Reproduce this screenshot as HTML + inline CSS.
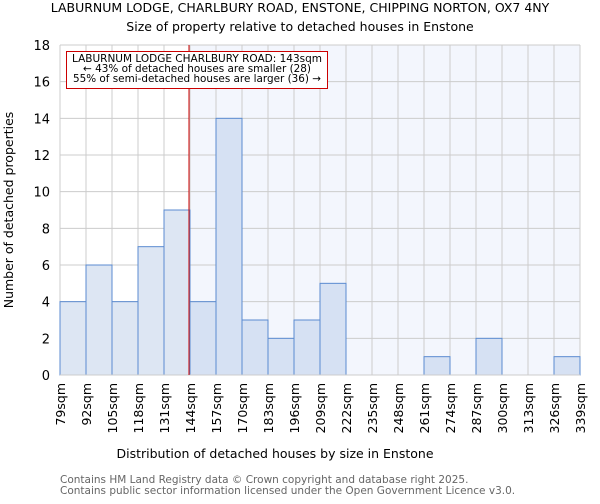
<!DOCTYPE html>
<html><head><meta charset="utf-8"><style>
body{margin:0;background:#fff;font-family:"DejaVu Sans","Liberation Sans",sans-serif;}
</style></head><body>
<svg id="c" width="600" height="500" xmlns="http://www.w3.org/2000/svg" font-family="DejaVu Sans, Liberation Sans, sans-serif">
<text x="300" y="12" text-anchor="middle" font-size="12.5">LABURNUM LODGE, CHARLBURY ROAD, ENSTONE, CHIPPING NORTON, OX7 4NY</text>
<text x="300" y="31" text-anchor="middle" font-size="12.5">Size of property relative to detached houses in Enstone</text>
<g id="plot"></g>
<text x="275" y="458" text-anchor="middle" font-size="12.5">Distribution of detached houses by size in Enstone</text>
<text transform="translate(13,210) rotate(-90)" text-anchor="middle" font-size="12.5">Number of detached properties</text>
<text x="60" y="483" font-size="10.5" fill="#666">Contains HM Land Registry data © Crown copyright and database right 2025.</text>
<text x="60" y="494" font-size="10.5" fill="#666">Contains public sector information licensed under the Open Government Licence v3.0.</text>
</svg>
<script>
const binEdges=[79,92,105,118,131,144,157,170,183,196,209,222,235,248,261,274,287,300,313,326,339];
const counts=[4,6,4,7,9,4,14,3,2,3,5,0,0,0,1,0,2,0,0,1];
const yTicks=[0,2,4,6,8,10,12,14,16,18];
const subjectSize=143;
const L=60,R=580,T=45,B=375,yMax=18;
const xs=v=>L+(v-binEdges[0])/(binEdges[binEdges.length-1]-binEdges[0])*(R-L);
const ys=v=>B-v/yMax*(B-T);
const NS='http://www.w3.org/2000/svg';
const g=document.getElementById('plot');
function mk(t,a){const e=document.createElementNS(NS,t);for(const k in a)e.setAttribute(k,a[k]);g.appendChild(e);return e;}
const sx=xs(subjectSize)+1;
let e=mk('rect',{x:sx,y:T,width:R-sx,height:B-T,fill:'#f3f6fd'});


yTicks.forEach(t=>{
 let l=mk('line',{x1:L,x2:R,y1:ys(t),y2:ys(t),stroke:'#cccccc'});
 
 
 let tx=mk('text',{x:L-10,y:ys(t)+5,'text-anchor':'end','font-size':'13'});
 tx.textContent=t;
 
 
});
binEdges.forEach(b=>{
 let l=mk('line',{x1:xs(b),x2:xs(b),y1:T,y2:B,stroke:'#cccccc'});
 
 
 let tx=mk('text',{transform:`translate(${xs(b)+5},${B+8}) rotate(-90)`,'text-anchor':'end','font-size':'12.5'});
 tx.textContent=b+'sqm';
 
 
});
counts.forEach((c,i)=>{
 if(c<=0)return;
 const x0=xs(binEdges[i]),x1=xs(binEdges[i+1]);
 let r=mk('rect',{x:x0,y:ys(c),width:x1-x0,height:B-ys(c),fill:binEdges[i]<subjectSize?'#dde6f3':'#d6e1f3',stroke:'#5b8bd0','stroke-width':'1'});
 
 
});
let base=mk('line',{x1:L,x2:R,y1:B,y2:B,stroke:'#cccccc'});


let ml=mk('line',{x1:sx,x2:sx,y1:T,y2:B,stroke:'#cc0000','stroke-width':'1'});


let box=mk('rect',{x:66.5,y:51.5,width:261,height:37,fill:'#fff',stroke:'#cc0000','stroke-width':'1'});


const lines=['LABURNUM LODGE CHARLBURY ROAD: 143sqm','← 43% of detached houses are smaller (28)','55% of semi-detached houses are larger (36) →'];
lines.forEach((s,i)=>{
 let t=mk('text',{x:197,y:62+i*10,'text-anchor':'middle','font-size':'10.4','textLength':i==0?'250':(i==1?'228':'248'),'lengthAdjust':'spacingAndGlyphs'});
 t.textContent=s;
 
 
});
</script>
</body></html>
